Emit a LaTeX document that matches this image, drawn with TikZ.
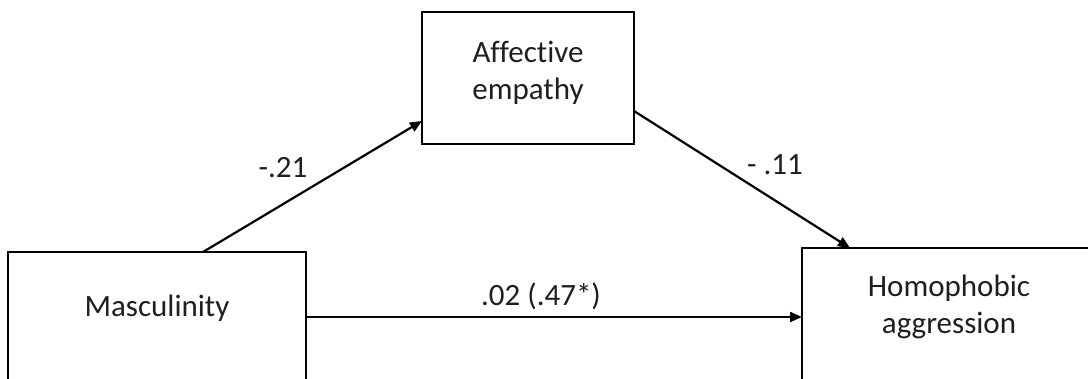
\documentclass[tikz,border=0pt]{standalone}
\usepackage{fontspec}
\setmainfont[Ligatures=NoCommon]{Carlito}
\usetikzlibrary{arrows.meta,calc}
\begin{document}
\begin{tikzpicture}[x=1pt,y=-1pt,
  box/.style={draw=black,line width=2.4pt,inner sep=0pt,outer sep=0pt,anchor=north west},
  txt/.style={font=\fontsize{31}{37}\selectfont,text=black!88,align=center,inner sep=0pt},
  link/.style={draw=black,line width=2.2pt,-{Triangle[length=12pt,width=10pt]}}]
  \useasboundingbox (0,0) rectangle (1088,378);
  \fill[white] (0,0) rectangle (1088,378);
  \clip (0,0) rectangle (1088,378);

  % variable boxes
  \node[box,minimum width=298pt,minimum height=200pt] (masc) at (8,252) {};
  \node[box,minimum width=212pt,minimum height=132pt] (emp) at (422,12) {};
  \node[box,minimum width=320pt,minimum height=200pt] (hom) at (802,248) {};

  % box captions
  \node[txt,anchor=base] (masct) at (157,316) {Masculinity};
  \node[txt] (empt) at (528,72.5) {Affective\\empathy};
  \node[txt] (homt) at (949,306.5) {Homophobic\\aggression};

  % paths (page y grows upwards, so downward shifts are negative)
  \draw[link] ([xshift=195pt]masc.north west) -- ([yshift=-109pt]emp.north west);
  \draw[link] ([yshift=-99pt]emp.north east) -- ([xshift=48pt]hom.north west);
  \draw[link] ([yshift=-65pt]masc.north east) -- ([yshift=-69pt]hom.north west);

  % coefficients
  \node[txt,anchor=base] (a) at (283,177) {-.21};
  \node[txt,anchor=base] (b) at (775,174) {- .11};
  \node[txt,anchor=base] (c) at (541,305) {.02 (.47*)};
\end{tikzpicture}
\end{document}
